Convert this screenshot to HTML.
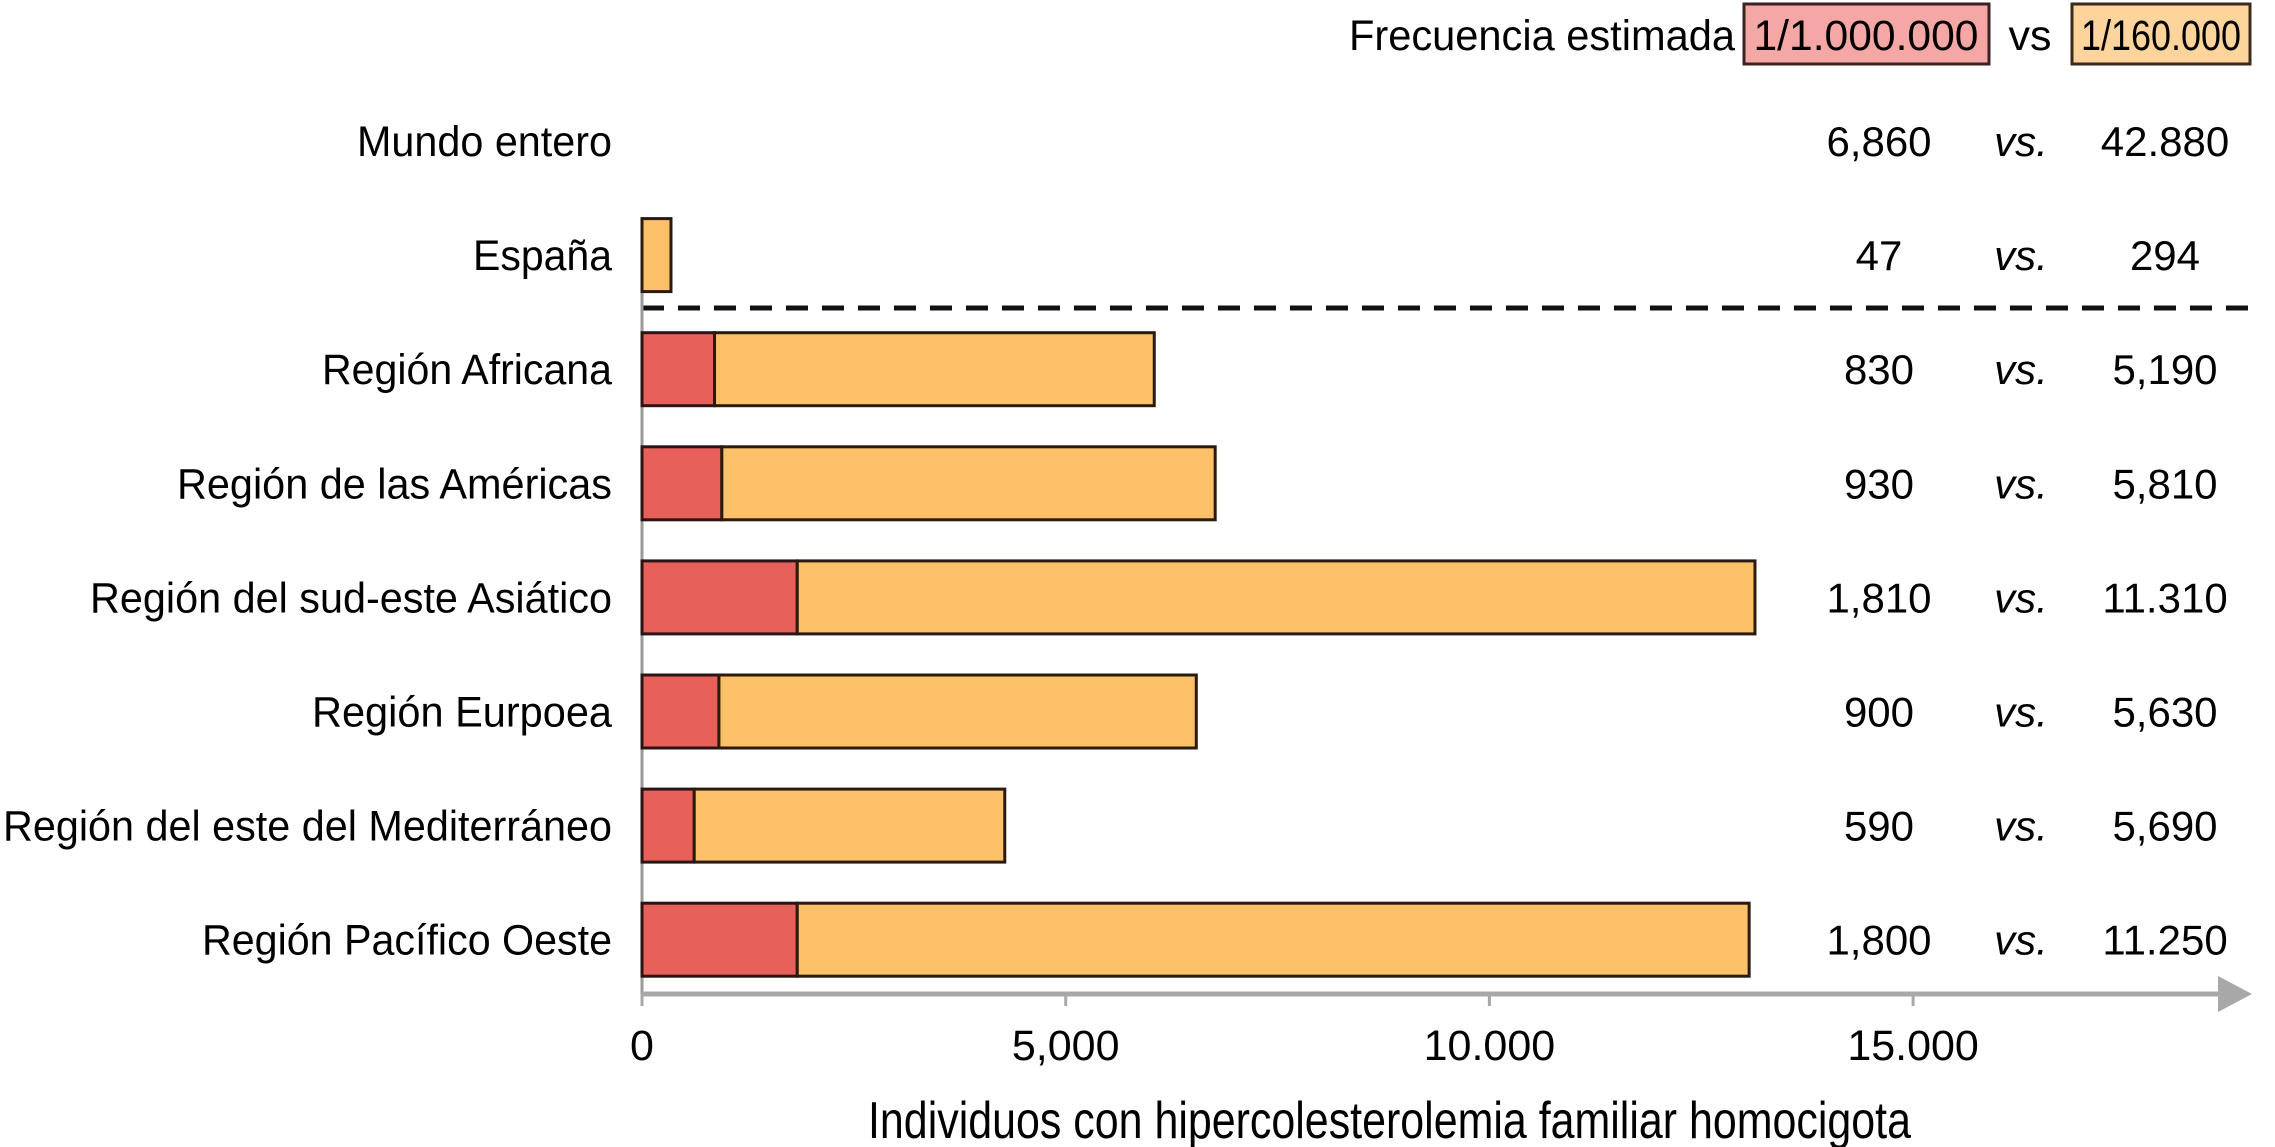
<!DOCTYPE html>
<html><head><meta charset="utf-8"><style>
html,body{margin:0;padding:0;background:#fff;}
svg{display:block;font-family:"Liberation Sans",sans-serif;}
</style></head><body>
<svg id="chart" width="2275" height="1147" viewBox="0 0 2275 1147" xmlns="http://www.w3.org/2000/svg">
<g>
  <text x="1349" y="50" font-size="43" textLength="386" lengthAdjust="spacingAndGlyphs">Frecuencia estimada</text>
  <rect x="1744" y="4" width="245" height="60" fill="#f4a7a5" stroke="#3a2222" stroke-width="3"/>
  <text x="1866" y="50" font-size="43" text-anchor="middle" textLength="225" lengthAdjust="spacingAndGlyphs">1/1.000.000</text>
  <text x="2030" y="50" font-size="43" text-anchor="middle">vs</text>
  <rect x="2072" y="4" width="178" height="60" fill="#fdd49b" stroke="#3a2a1a" stroke-width="3"/>
  <text x="2161" y="50" font-size="43" text-anchor="middle" textLength="160" lengthAdjust="spacingAndGlyphs">1/160.000</text>
</g>
<g id="plot"></g>
</svg>
<script>
const categories = ["Mundo entero","España","Región Africana","Región de las Américas","Región del sud-este Asiático","Región Eurpoea","Región del este del Mediterráneo","Región Pacífico Oeste"];
const redValues = [0, 0, 856, 942, 1832, 908, 616, 1832];
const totalValues = [0, 342, 6045, 6764, 13134, 6541, 4281, 13065];
const lowLabels = ["6,860","47","830","930","1,810","900","590","1,800"];
const highLabels = ["42.880","294","5,190","5,810","11.310","5,630","5,690","11.250"];
const tickValues = [0, 5000, 10000, 15000];
const tickLabels = ["0","5,000","10.000","15.000"];

const NS = "http://www.w3.org/2000/svg";
const plot = document.getElementById('plot');
const X0 = 642, PX = 423.7/5000;
const x = v => X0 + v*PX;
const rowY = i => 141 + i*114.1;
const BAR_H = 73;
const labelLefts = [357,473,322,177,90,312,3,202];
function mk(tag, attrs, parent){const e=document.createElementNS(NS,tag);for(const k in attrs)e.setAttribute(k,attrs[k]);(parent||plot).appendChild(e);return e;}

let sep = mk('line',{x1:642,y1:308,x2:2252,y2:308,stroke:'#111','stroke-width':5,'stroke-dasharray':'22 14'});



let ya = mk('line',{x1:642,y1:290,x2:642,y2:1000,stroke:'#9a9a9a','stroke-width':3});



categories.forEach((c,i)=>{
  const cy = rowY(i);
  const lbl = mk('text',{x:612,y:cy+15,'font-size':43,'text-anchor':'end',textLength:612-labelLefts[i],lengthAdjust:'spacingAndGlyphs'});
  lbl.textContent = c;
  
  
  if (totalValues[i] > 0) {
    const yTop = cy - BAR_H/2;
    if (redValues[i] > 0) {
      const r = mk('rect',{x:x(0),y:yTop,width:x(redValues[i])-x(0),height:BAR_H,fill:'#e8605a',stroke:'#2a1414','stroke-width':3});
      
      
    }
    const o = mk('rect',{x:x(redValues[i]),y:yTop,width:x(totalValues[i])-x(redValues[i]),height:BAR_H,fill:'#fbc068',stroke:'#2a1a10','stroke-width':3});
    
    
  }
  const a = mk('text',{x:1879,y:cy+15,'font-size':42,'text-anchor':'middle'});
  a.textContent = lowLabels[i];
  
  
  const v = mk('text',{x:2021,y:cy+15,'font-size':42,'text-anchor':'middle','font-style':'italic'});
  v.textContent = 'vs.';
  
  
  const b = mk('text',{x:2165,y:cy+15,'font-size':42,'text-anchor':'middle'});
  b.textContent = highLabels[i];
  
  
});

let xa = mk('line',{x1:642,y1:994,x2:2225,y2:994,stroke:'#a8a8a8','stroke-width':5});


let arr = mk('polygon',{points:'2218,976 2252,994 2218,1012',fill:'#a8a8a8'});


tickValues.forEach((t,i)=>{
  const tk = mk('line',{x1:x(t),y1:994,x2:x(t),y2:1006,stroke:'#a8a8a8','stroke-width':3});
  
  
  const tl = mk('text',{x:x(t),y:1060,'font-size':43,'text-anchor':'middle'});
  tl.textContent = tickLabels[i];
  
  
});
let xt = mk('text',{x:868,y:1138,'font-size':52,textLength:1043,lengthAdjust:'spacingAndGlyphs'});
xt.textContent = 'Individuos con hipercolesterolemia familiar homocigota';


</script>
</body></html>
